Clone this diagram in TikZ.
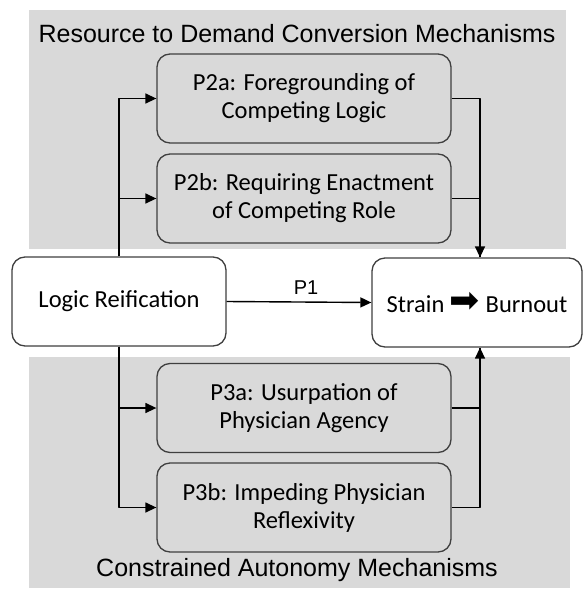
\documentclass[tikz,border=0pt]{standalone}
\usepackage{fontspec}
\setmainfont{Carlito}
\newfontfamily\headfont{Liberation Sans}
\newfontfamily\symfont{DejaVu Sans}
\usetikzlibrary{arrows.meta}
\definecolor{panelgray}{HTML}{D9D9D9}
\definecolor{boxline}{HTML}{3F3F3F}

\begin{document}
\begin{tikzpicture}[x=1pt, y=-1pt, line join=round,
    mech/.style={draw=boxline, line width=1.3pt, rounded corners=13pt, fill=panelgray,
      minimum width=294pt, minimum height=89pt, inner sep=0pt, align=center,
      font=\fontsize{24.5}{28}\selectfont},
    mainbox/.style={mech, fill=white, minimum width=214pt},
    ttl/.style={font=\headfont\fontsize{25}{30}\selectfont, inner sep=0pt},
    flow/.style={line width=1.4pt, -{Triangle[length=11pt, width=10pt]}},
    link/.style={line width=1.4pt}]
  \useasboundingbox (0,0) rectangle (583,592);
  % grey panels behind the two groups of mechanisms
  \fill[panelgray] (29,10) rectangle (566,249);
  \fill[panelgray] (29,357) rectangle (570,588);
  \node[ttl] (ttop) at (297,34) {Resource to Demand Conversion Mechanisms};
  \node[ttl] (tbot) at (297,570) {Constrained Autonomy Mechanisms};
  % mechanisms
  \node[mech] (p2a) at (304,98.5) {P2a: Foregrounding of\\Competing Logic};
  \node[mech] (p2b) at (304,198.5) {P2b: Requiring Enactment\\of Competing Role};
  \node[mech] (p3a) at (304,408) {P3a: Usurpation of\\Physician Agency};
  \node[mech] (p3b) at (304,507.5) {P3b: Impeding Physician\\Reflexivity};
  % cause and outcome
  \node[mainbox] (logic) at (119,301.5) {Logic Reification};
  \node[mainbox, minimum width=210pt] (strain) at (477,302.5)
    {Strain {\symfont\fontsize{36}{36}\selectfont ➡} Burnout};
  \coordinate (intop) at ([xshift=3pt]strain.north);
  \coordinate (inbot) at ([xshift=3pt]strain.south);
  % branches out of the cause
  \draw[flow] (logic.north) |- (p2a.west);
  \draw[flow] (logic.north) |- (p2b.west);
  \draw[flow] (logic.south) |- (p3a.west);
  \draw[flow] (logic.south) |- (p3b.west);
  \draw[flow] (logic.east) -- node[above=7pt, xshift=7pt, inner sep=0pt,
    font=\headfont\fontsize{20}{24}\selectfont] (lp1) {P1} (strain.west);
  % merging into the outcome
  \draw[link] (p2b.east) -| (intop);
  \draw[flow] (p2a.east) -| (intop);
  \draw[link] (p3a.east) -| (inbot);
  \draw[flow] (p3b.east) -| (inbot);
\end{tikzpicture}
\end{document}
